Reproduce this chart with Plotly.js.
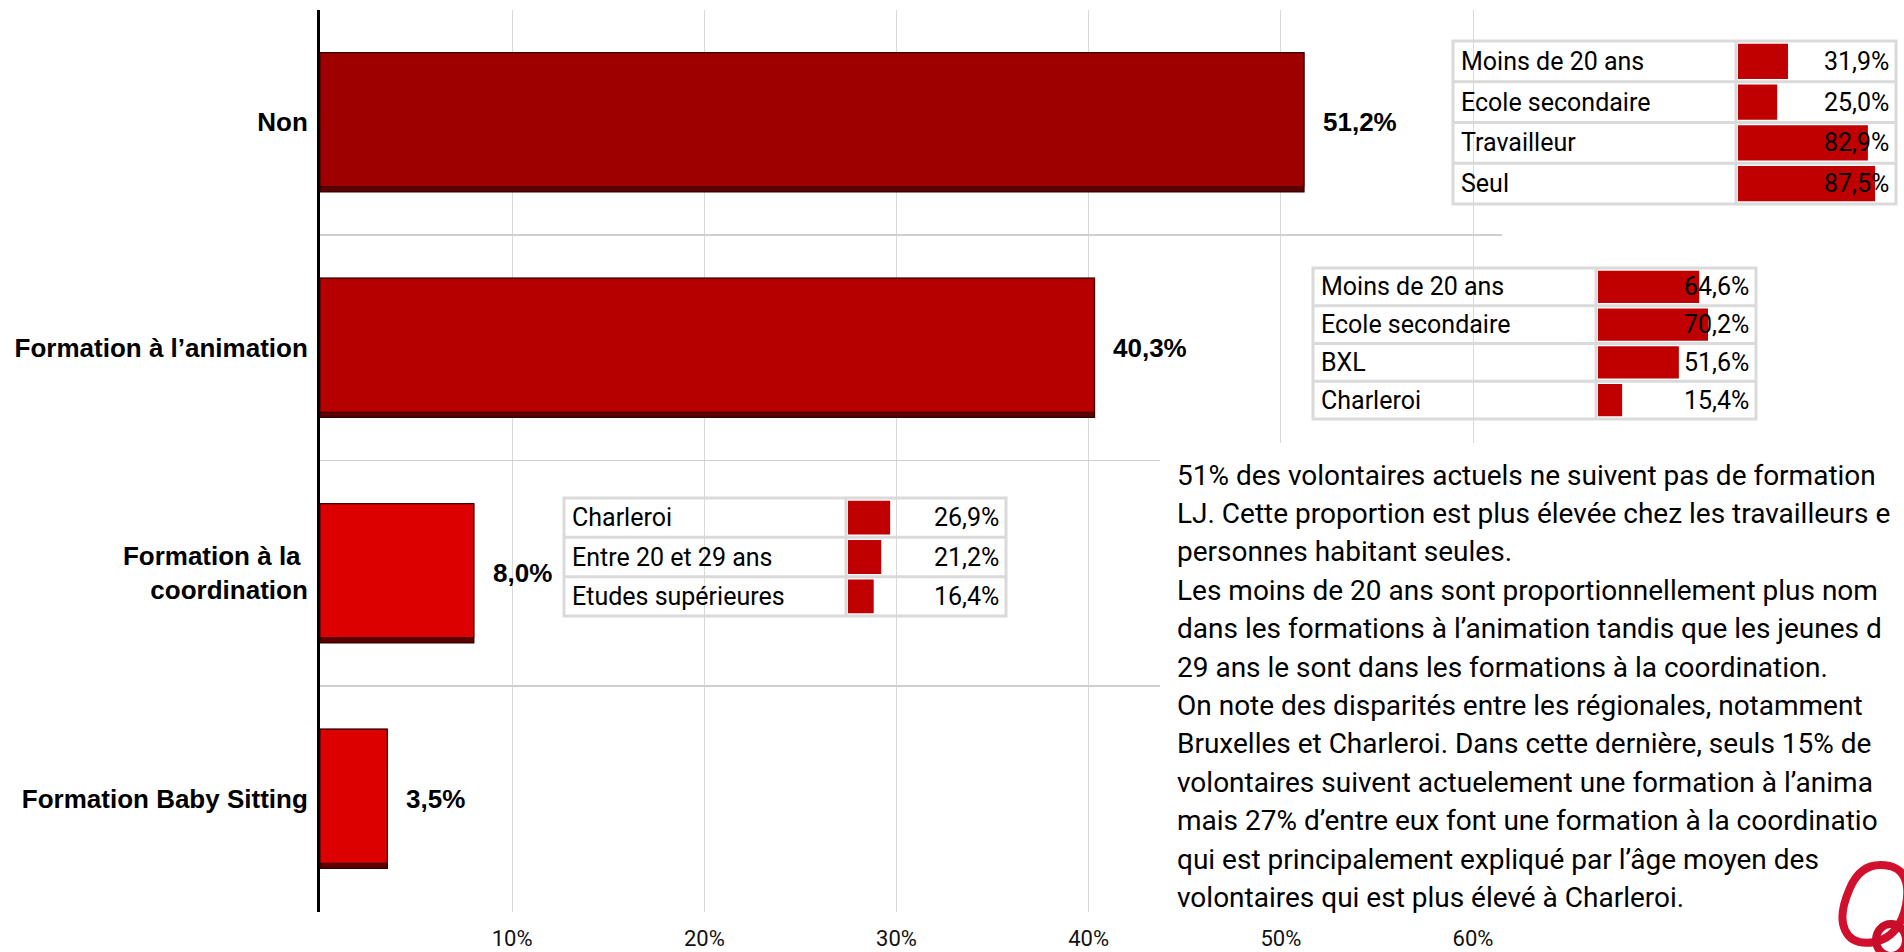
<!DOCTYPE html>
<html>
<head>
<meta charset="utf-8">
<script src="https://cdn.plot.ly/plotly-3.0.1.min.js"></script>
<style>
  html, body { margin: 0; padding: 0; background: #ffffff; overflow: hidden; }
  #chart { width: 1904px; height: 952px; }
</style>
</head>
<body>
<div id="chart"></div>
<script>
// ---------- DATA ----------
const categories = ['Non', 'Formation à l’animation', 'Formation à la\u00a0<br>coordination', 'Formation Baby Sitting'];
const values = [51.2, 40.3, 8.0, 3.5];
const barColors = ['#9e0000', '#b60000', '#dc0000', '#dc0000'];

const xTickValues = [10, 20, 30, 40, 50, 60];
const xTickLabels = ['10%', '20%', '30%', '40%', '50%', '60%'];

const t1Labels = ['Moins de 20 ans', 'Ecole secondaire', 'Travailleur', 'Seul'];
const t1Values = [31.9, 25.0, 82.9, 87.5];

const t2Labels = ['Moins de 20 ans', 'Ecole secondaire', 'BXL', 'Charleroi'];
const t2Values = [64.6, 70.2, 51.6, 15.4];

const t3Labels = ['Charleroi', 'Entre 20 et 29 ans', 'Etudes supérieures'];
const t3Values = [26.9, 21.2, 16.4];

const commentLines = [
  '51% des volontaires actuels ne suivent pas de formation',
  'LJ. Cette proportion est plus élevée chez les travailleurs e',
  'personnes habitant seules.',
  'Les moins de 20 ans sont proportionnellement plus nom',
  'dans les formations à l’animation tandis que les jeunes d',
  '29 ans le sont dans les formations à la coordination.',
  'On note des disparités entre les régionales, notamment',
  'Bruxelles et Charleroi. Dans cette dernière, seuls 15% de',
  'volontaires suivent actuelement une formation à l’anima',
  'mais 27% d’entre eux font une formation à la coordinatio',
  'qui est principalement expliqué par l’âge moyen des',
  'volontaires qui est plus élevé à Charleroi.'
];

// ---------- LAYOUT HELPERS (pixel -> paper) ----------
const W = 1904, H = 952;
const px = x => x / W;
const py = y => 1 - y / H;
const fmt = v => v.toFixed(1).replace('.', ',') + '%';

const mainLeft = 320, mainRight = 1502, mainTop = 9.5, mainBottom = 911.5;
const pxPerPct = (1473 - 320) / 60;
const xMax = (mainRight - mainLeft) / pxPerPct;

const BAR_FONT = 'Roboto, "Liberation Sans", sans-serif';
const BOLD_FONT = '"Liberation Sans", Arial, sans-serif';

const traces = [];
const annotations = [];
const shapes = [];

// main bars: shadow + face
traces.push({
  type: 'bar', orientation: 'h', y: categories, x: values,
  xaxis: 'x', yaxis: 'y',
  width: 0.616, offset: -0.308,
  marker: { color: '#5e0000', line: { color: '#3a0000', width: 1.5 } },
  hoverinfo: 'skip'
});
traces.push({
  type: 'bar', orientation: 'h', y: categories, x: values,
  xaxis: 'x', yaxis: 'y',
  width: 0.594, offset: -0.308,
  marker: { color: barColors, line: { color: '#3a0000', width: 1 } },
  hoverinfo: 'skip'
});

// data labels
categories.forEach((c, i) => {
  annotations.push({
    xref: 'x', yref: 'y', x: values[i], y: c,
    text: fmt(values[i]), showarrow: false,
    xanchor: 'left', yanchor: 'middle', xshift: 17,
    font: { family: BOLD_FONT, size: 26, color: '#000', weight: 'bold' }
  });
});

// ---------- inset tables ----------
const tables = [
  { labels: t1Labels, values: t1Values, left: 1453, right: 1896, div: 1736, top: 41, bottom: 204, ax: 2 },
  { labels: t2Labels, values: t2Values, left: 1313, right: 1756, div: 1596, top: 268, bottom: 419, ax: 3 },
  { labels: t3Labels, values: t3Values, left: 564, right: 1006, div: 846, top: 498, bottom: 616, ax: 4 }
];
const tableBarPx = 156.7; // px for 100 %
const layoutAxes = {};

tables.forEach(t => {
  const xa = 'x' + t.ax, ya = 'y' + t.ax;
  const n = t.labels.length;
  traces.push({
    type: 'bar', orientation: 'h', y: t.labels, x: t.values,
    xaxis: xa, yaxis: ya, width: 0.86,
    marker: { color: '#c00000' }, hoverinfo: 'skip'
  });
  layoutAxes['xaxis' + t.ax] = {
    domain: [px(t.div + 2), px(t.div + 2 + tableBarPx)], range: [0, 100],
    anchor: ya, visible: false, fixedrange: true
  };
  layoutAxes['yaxis' + t.ax] = {
    domain: [py(t.bottom), py(t.top)], type: 'category',
    categoryorder: 'array', categoryarray: t.labels,
    range: [n - 0.5, -0.5], anchor: xa, visible: false, fixedrange: true
  };
  t.labels.forEach((l, i) => {
    annotations.push({
      xref: 'paper', yref: ya, x: px(t.left + 6), y: l, text: l,
      showarrow: false, xanchor: 'left', yanchor: 'middle',
      font: { family: BAR_FONT, size: 25, color: '#000' }
    });
    annotations.push({
      xref: 'paper', yref: ya, x: px(t.right - 5), y: l, text: fmt(t.values[i]),
      showarrow: false, xanchor: 'right', yanchor: 'middle',
      font: { family: BAR_FONT, size: 25, color: '#000' }
    });
  });
  // borders
  const bc = '#dadada', bw = 3;
  const rowH = (t.bottom - t.top) / n;
  shapes.push({ type: 'rect', xref: 'paper', yref: 'paper',
    x0: px(t.left), x1: px(t.right), y0: py(t.top), y1: py(t.bottom),
    line: { color: bc, width: bw }, fillcolor: 'rgba(0,0,0,0)', layer: 'above' });
  for (let r = 1; r < n; r++) {
    shapes.push({ type: 'line', xref: 'paper', yref: 'paper',
      x0: px(t.left), x1: px(t.right), y0: py(t.top + r * rowH), y1: py(t.top + r * rowH),
      line: { color: bc, width: bw }, layer: 'above' });
  }
  shapes.push({ type: 'line', xref: 'paper', yref: 'paper',
    x0: px(t.div), x1: px(t.div), y0: py(t.top), y1: py(t.bottom),
    line: { color: bc, width: bw }, layer: 'above' });
});

// ---------- comment text box ----------
shapes.push({ type: 'rect', xref: 'paper', yref: 'paper',
  x0: px(1160), x1: px(1904), y0: py(443), y1: py(913),
  fillcolor: '#ffffff', line: { width: 0 }, layer: 'above' });

commentLines.forEach((line, i) => {
  annotations.push({
    xref: 'paper', yref: 'paper', x: px(1175), y: py(475 + i * 38.4),
    text: line, showarrow: false, xanchor: 'left', yanchor: 'middle',
    font: { family: BAR_FONT, size: 28, color: '#000' }
  });
});

// ---------- logo (decoration) ----------
const P = (x, y) => `${px(x)},${py(y)}`;
shapes.push({
  type: 'path', xref: 'paper', yref: 'paper', layer: 'above',
  path: `M${P(1890, 866)} Q${P(1862, 860)} ${P(1850, 888)} Q${P(1838, 915)} ${P(1845, 930)} Q${P(1852, 946)} ${P(1875, 942)} Q${P(1900, 936)} ${P(1906, 905)} Q${P(1912, 872)} ${P(1890, 866)} Z`,
  line: { color: '#d0102c', width: 8 }, fillcolor: 'rgba(0,0,0,0)'
});
shapes.push({
  type: 'circle', xref: 'paper', yref: 'paper', layer: 'above',
  x0: px(1876), x1: px(1906), y0: py(956), y1: py(924),
  line: { color: '#c80d2a', width: 8 }, fillcolor: 'rgba(0,0,0,0)'
});

const layout = Object.assign({
  width: W, height: H,
  margin: { l: 0, r: 0, t: 0, b: 0, pad: 0 },
  paper_bgcolor: '#ffffff', plot_bgcolor: 'rgba(0,0,0,0)',
  showlegend: false, barmode: 'overlay',
  xaxis: {
    domain: [px(mainLeft), px(mainRight)], range: [0, xMax],
    tickmode: 'array', tickvals: xTickValues, ticktext: xTickLabels,
    showgrid: true, gridcolor: '#d9d9d9', gridwidth: 1,
    zeroline: false, showline: false, ticks: '',
    ticklabelstandoff: 11,
    tickfont: { family: BAR_FONT, size: 22, color: '#111' },
    anchor: 'y', fixedrange: true
  },
  yaxis: {
    domain: [py(mainBottom), py(mainTop)], type: 'category',
    categoryorder: 'array', categoryarray: categories,
    range: [3.5, -0.5], tickson: 'boundaries',
    showgrid: true, gridcolor: '#cfcfcf', gridwidth: 1.5,
    showline: true, linecolor: '#000', linewidth: 3,
    zeroline: false, ticks: '', ticklabelstandoff: 4,
    tickfont: { family: BOLD_FONT, size: 26, color: '#000', weight: 'bold' },
    anchor: 'x', fixedrange: true
  },
  annotations: annotations,
  shapes: shapes
}, layoutAxes);

Plotly.newPlot('chart', traces, layout, { displayModeBar: false, staticPlot: true });
</script>
</body>
</html>
